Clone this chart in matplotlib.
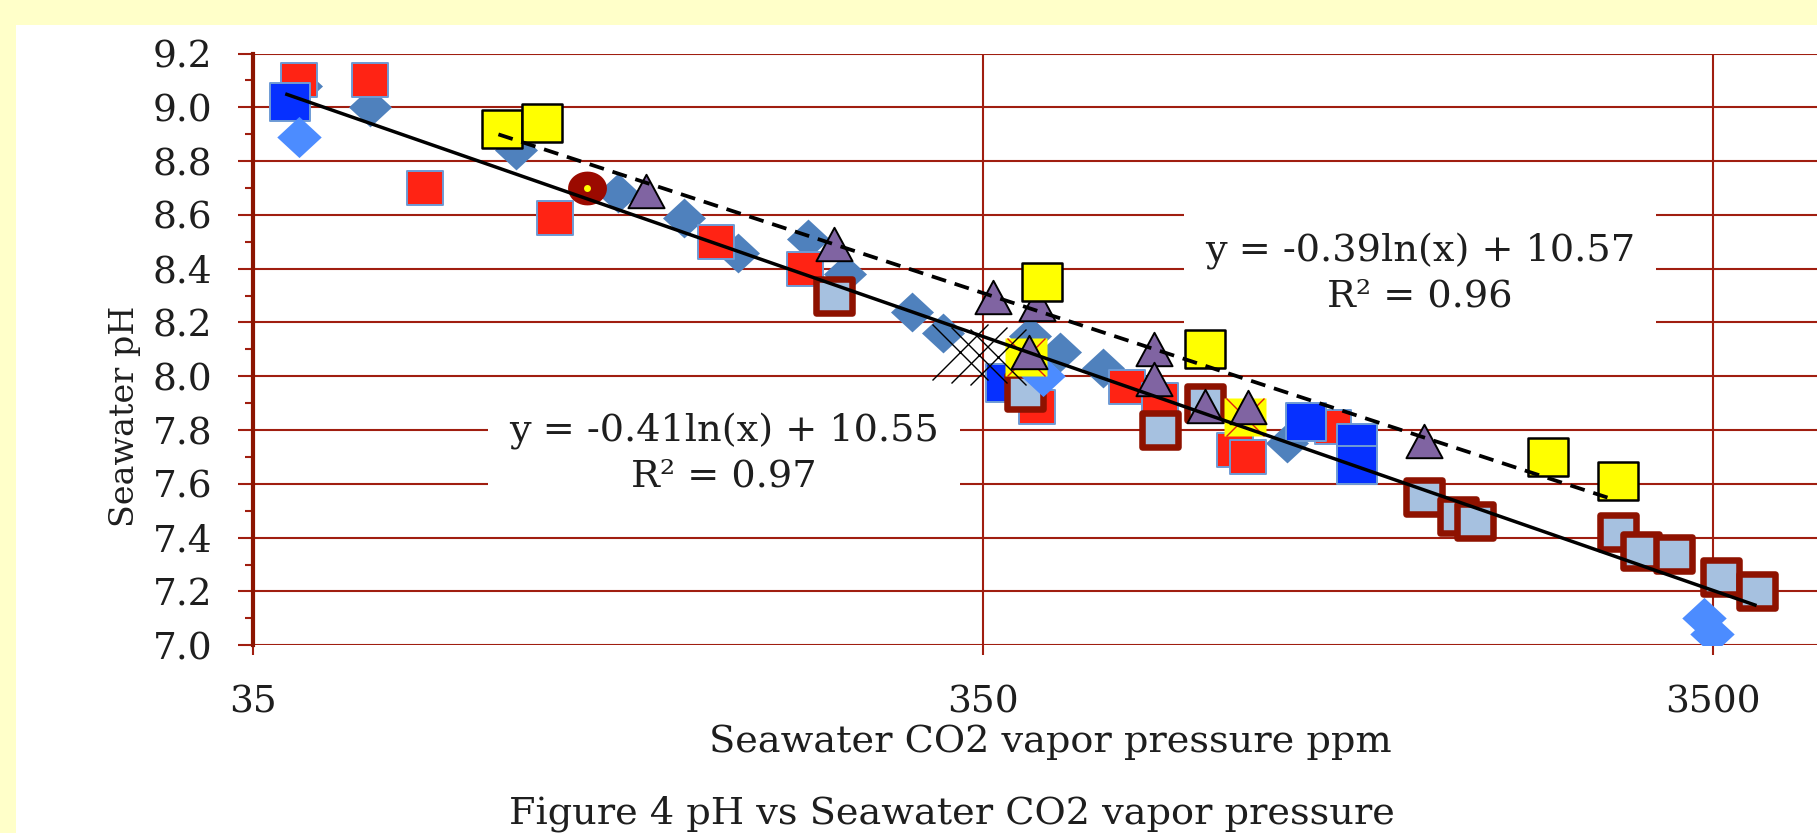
import numpy as np
import matplotlib
matplotlib.use("Agg")
import matplotlib.pyplot as plt
from matplotlib.path import Path
from matplotlib.markers import MarkerStyle
from matplotlib.patches import Rectangle
from matplotlib.ticker import FixedLocator, NullLocator, FormatStrFormatter

# values: CO2 vapour pressure (ppm) and pH
steel_x = [40.8, 50.7, 80.3, 110.8, 136.5, 161.8, 202, 227, 280, 309, 406, 447, 512, 914]
steel_y = [9.08, 9.00, 8.84, 8.68, 8.59, 8.46, 8.51, 8.38, 8.24, 8.16, 8.15, 8.09, 8.03, 7.75]

red_x = [40.5, 50.7, 60.3, 90.9, 151, 200, 415, 552, 612, 777, 808, 1057]
red_y = [9.10, 9.10, 8.70, 8.59, 8.50, 8.40, 7.885, 7.96, 7.91, 7.725, 7.70, 7.81]

blue_x = [39.4, 377, 970, 1140, 1140]
blue_y = [9.02, 7.975, 7.83, 7.75, 7.67]

ring_x = [219, 400, 612, 706, 1409, 1568, 1654, 2597, 2792, 3098, 3594, 4028]
ring_y = [8.30, 7.94, 7.80, 7.90, 7.55, 7.48, 7.46, 7.42, 7.35, 7.34, 7.255, 7.20]

light_x = [40.5, 423, 3405, 3494]
light_y = [8.89, 8.00, 7.10, 7.04]

hatch_x = [401, 801]
hatch_y = [8.07, 7.85]

tri_x = [121, 219, 362, 415, 405, 601, 601, 706, 808, 1409]
tri_y = [8.69, 8.49, 8.295, 8.27, 8.09, 8.10, 7.99, 7.89, 7.885, 7.76]

yellow_x = [76.9, 87.2, 422, 706, 2083, 2597]
yellow_y = [8.92, 8.94, 8.35, 8.10, 7.70, 7.61]

cross_x = [326, 346, 368]
cross_y = [8.09, 8.08, 8.07]

dot_x = [100.5]
dot_y = [8.70]

# log trend lines  y = a*ln(x) + b
solid_a, solid_b, solid_range = -0.41, 10.55, (39, 4000)
dash_a, dash_b, dash_range = -0.386, 10.571, (76, 2520)
solid_label = "y = -0.41ln(x) + 10.55\nR² = 0.97"
dash_label = "y = -0.39ln(x) + 10.57\nR² = 0.96"

x_ticks = [35, 350, 3500]
x_ticklabels = ["35", "350", "3500"]
y_ticks = [7.0, 7.2, 7.4, 7.6, 7.8, 8.0, 8.2, 8.4, 8.6, 8.8, 9.0, 9.2]

GRID = "#A01E10"
AXIS = "#8C1400"
TXT = "#1E1E1E"
EDGE_BLUE = "#6E9BD5"

plt.rcParams["font.family"] = ["DejaVu Serif"]


def wide(verts, aspect=1.08):
    # the source picture is a little stretched sideways, so the markers are too
    v = np.array(verts, dtype=float)
    v[:, 0] *= aspect
    return MarkerStyle(Path(v, closed=True), joinstyle="miter")


square = wide([(-1, -1), (1, -1), (1, 1), (-1, 1), (-1, -1)])
diamond = wide([(-1, 0), (0, -1), (1, 0), (0, 1), (-1, 0)])
triangle = wide([(0, 1), (-1, -1), (1, -1), (0, 1)], aspect=1.08)
t = np.linspace(0, 2 * np.pi, 49)
ellipse = wide(np.column_stack([np.cos(t), np.sin(t)]), aspect=1.15)

fig = plt.figure(figsize=(18.17, 8.33), dpi=100, facecolor="#FFFFC9")
fig.add_artist(Rectangle((15.6 / 1817, 0), 1, (833 - 25) / 833, transform=fig.transFigure,
                         facecolor="white", edgecolor="none", zorder=-1))

ax = fig.add_axes([0.13902, 0.22545, 0.86813, 0.71032])
ax.set_xscale("log")
ax.set_xlim(35, 5069)
ax.set_ylim(7.0, 9.2)

# series, bottom to top in the order they overlap in the picture
ax.plot(steel_x, steel_y, ls="none", marker=diamond, ms=31, mfc="#4F81BD", mec="none", zorder=3)
ax.plot(red_x, red_y, ls="none", marker=square, ms=26, mfc="#FF2314", mec=EDGE_BLUE, mew=1.4, zorder=3.1)
ax.plot(blue_x, blue_y, ls="none", marker=square, ms=29, mfc="#0630FF", mec=EDGE_BLUE, mew=1.4, zorder=3.2)
ax.plot(ring_x, ring_y, ls="none", marker=square, ms=26.5, mfc="#A6C1E0", mec="#8E1200", mew=4.7, zorder=3.3)
ax.plot(light_x, light_y, ls="none", marker=diamond, ms=32, mfc="#4C8CFF", mec="none", zorder=3.4)
ax.plot(hatch_x, hatch_y, ls="none", marker=square, ms=30, mfc="#FFFF00", mec="none", zorder=3.5)
ax.plot(hatch_x, hatch_y, ls="none", marker="x", ms=28, mec="#E02010", mew=1.0, zorder=3.55)
ax.plot(tri_x, tri_y, ls="none", marker=triangle, ms=26, mfc="#8064A2", mec="black", mew=1.4, zorder=3.6)
ax.plot(yellow_x, yellow_y, ls="none", marker=square, ms=29, mfc="#FFFF00", mec="black", mew=1.8, zorder=3.7)
ax.plot(cross_x, cross_y, ls="none", marker="x", ms=40, mec="black", mew=1.0, zorder=3.8)
ax.plot(dot_x, dot_y, ls="none", marker=ellipse, ms=28, mfc="#9B0A00", mec="none", zorder=3.9)
ax.plot(dot_x, dot_y, ls="none", marker="o", ms=5, mfc="#FFFF00", mec="none", zorder=3.95)

xs = np.geomspace(*solid_range, 50)
ax.plot(xs, solid_a * np.log(xs) + solid_b, color="black", lw=2.5, zorder=10)
xd = np.geomspace(*dash_range, 50)
ax.plot(xd, dash_a * np.log(xd) + dash_b, color="black", lw=2.7, dashes=(4, 2.4), zorder=10)

box = dict(facecolor="white", edgecolor="none", pad=14.8)
ax.text(1391, 8.38, dash_label, ha="center", va="center", ma="center", fontsize=27.5,
        color=TXT, linespacing=1.3, bbox=box, zorder=2)
ax.text(154.8, 7.711, solid_label, ha="center", va="center", ma="center", fontsize=27.5,
        color=TXT, linespacing=1.3, bbox=box, zorder=2)

# axes styling
for side in ["top", "right", "bottom"]:
    ax.spines[side].set_visible(False)
ax.spines["left"].set_color(AXIS)
ax.spines["left"].set_linewidth(3)

ax.xaxis.set_major_locator(FixedLocator(x_ticks))
ax.xaxis.set_minor_locator(NullLocator())
ax.set_xticklabels(x_ticklabels)
ax.yaxis.set_major_locator(FixedLocator(y_ticks))
ax.yaxis.set_minor_locator(FixedLocator([v + 0.1 for v in y_ticks[:-1]]))
ax.yaxis.set_major_formatter(FormatStrFormatter("%.1f"))

ax.tick_params(axis="y", which="major", direction="out", length=11, width=1.5, color=GRID,
               pad=18, labelsize=27, labelcolor=TXT)
ax.tick_params(axis="y", which="minor", direction="out", length=5.5, width=1.5, color=GRID)
ax.tick_params(axis="x", which="major", direction="out", length=7, width=1.5, color=GRID,
               pad=21, labelsize=27, labelcolor=TXT)
ax.grid(True, which="major", color=GRID, linewidth=1.5)
ax.set_axisbelow(True)

ax.set_xlabel("Seawater CO2 vapor pressure ppm", fontsize=27.5, color=TXT)
ax.xaxis.set_label_coords(0.5055, -0.1805)
ax.xaxis.label.set_va("baseline")
ax.set_ylabel("Seawater pH", fontsize=24, color=TXT)
ax.yaxis.set_label_coords(-0.0752, 0.3865)
ax.yaxis.label.set_va("baseline")

fig.text(952 / 1817, 9 / 833, "Figure 4 pH vs Seawater CO2 vapor pressure", ha="center",
         va="baseline", fontsize=27.5, color=TXT)

fig.savefig("out.png", dpi=100, facecolor=fig.get_facecolor())
